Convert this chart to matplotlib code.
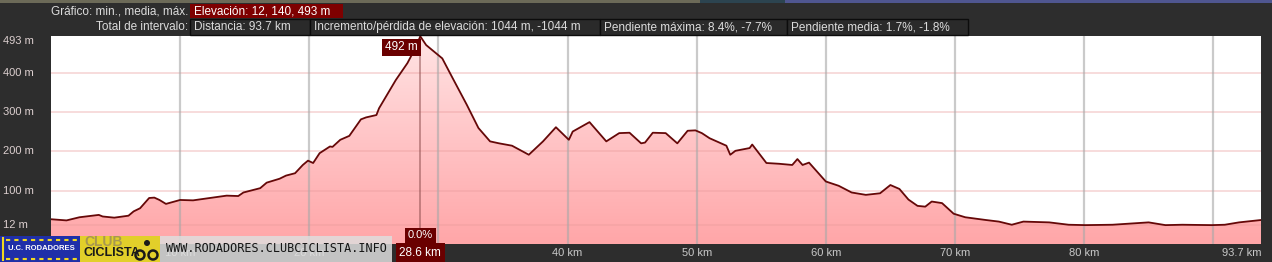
import numpy as np
import matplotlib
matplotlib.use("Agg")
import matplotlib.pyplot as plt
from matplotlib.patches import Rectangle, Circle, Polygon
from matplotlib.colors import LinearSegmentedColormap
from matplotlib import transforms

# -----------------------------
# Datos del perfil
# -----------------------------
km = [0, 1.2, 2.2, 3.7, 4.0, 4.9, 6.0, 6.4, 6.9, 7.6,
      8.0, 8.4, 8.9, 10.0, 11.0, 12.3, 13.6, 14.5, 14.9, 16.2,
      16.7, 17.7, 18.2, 18.9, 19.5, 19.9, 20.3, 20.8, 21.6, 21.8,
      22.4, 23.1, 24.0, 24.4, 25.2, 25.4, 26.7, 27.6, 28.0, 28.6,
      29.05, 29.6, 30.3, 31.1, 32.2, 33.1, 34.0, 34.7, 35.7, 37.0,
      38.1, 39.1, 40.1, 40.4, 41.7, 43.0, 44.0, 44.8, 45.7, 46.0,
      46.6, 47.6, 48.5, 49.3, 49.9, 50.4, 51.0, 52.3, 52.6, 53.0,
      54.1, 54.3, 55.4, 56.4, 57.4, 57.8, 58.2, 58.7, 60.0, 61.0,
      62.0, 63.1, 64.2, 65.0, 65.7, 66.4, 67.1, 67.7, 68.2, 69.0,
      69.9, 70.8, 72.4, 73.4, 74.4, 75.3, 77.3, 78.8, 80.1, 82.2,
      85.0, 86.3, 87.6, 89.9, 90.9, 92.0, 93.7]
elevacion = [27, 24, 32, 38, 34, 31, 36, 47, 55, 81,
             82, 76, 66, 76, 75, 81, 87, 86, 95, 106,
             120, 130, 138, 144, 165, 176, 170, 195, 212, 211,
             229, 239, 281, 286, 292, 309, 381, 424, 449, 492,
             470, 455, 436, 386, 318, 259, 225, 220, 214, 191,
             225, 261, 229, 250, 274, 225, 246, 247, 220, 222,
             247, 246, 220, 252, 253, 246, 233, 214, 191, 201,
             208, 217, 170, 168, 165, 180, 165, 171, 123, 112,
             95, 89, 93, 114, 104, 77, 61, 59, 72, 68,
             41, 32, 25, 21, 13, 21, 19, 13, 12, 13,
             19, 12, 13, 12, 13, 19, 25]

y_ticks = [12, 100, 200, 300, 400, 493]
y_labels = ["12 m", "100 m", "200 m", "300 m", "400 m", "493 m"]
x_ticks = [10, 20, 40, 50, 60, 70, 80]
x_grid = [10, 20, 30, 40, 50, 60, 70, 80, 90]
total_km = 93.7
marcador_km = 28.6
marcador_elev = 492
marcador_pend = "0.0%"

cabecera_1 = ("Gráfico: min., media, máx.", "Elevación: 12, 140, 493 m")
cabecera_2 = "Total de intervalo:"
cajas = ["Distancia: 93.7 km",
         "Incremento/pérdida de elevación: 1044 m, -1044 m",
         "Pendiente máxima: 8.4%, -7.7%",
         "Pendiente media: 1.7%, -1.8%"]
cajas_x = [190, 310, 600, 787, 968]

# -----------------------------
# Figura
# -----------------------------
W, H = 1272, 262
plt.rcParams["font.family"] = ["Liberation Sans", "DejaVu Sans"]
fondo = "#2d2d2d"
fig = plt.figure(figsize=(W / 100, H / 100), dpi=100, facecolor=fondo)

x0, x1, y0, y1 = 51, 1261, 36, 244
ax = fig.add_axes([x0 / W, 1 - y1 / H, (x1 - x0) / W, (y1 - y0) / H])
ax.set_xlim(0, total_km)
ax.set_ylim(-36, 493)
ax.set_facecolor("white")
for s in ax.spines.values():
    s.set_visible(False)
ax.set_xticks([])
ax.set_yticks([])

# relleno con degradado
cmap = LinearSegmentedColormap.from_list("rosa", ["#ffa6a8", "#ffc4c6", "#ffe4e4"])
grad = np.linspace(0, 1, 256).reshape(-1, 1)
img = ax.imshow(grad, cmap=cmap, origin="lower", aspect="auto",
                extent=[0, total_km, -36, 493], zorder=1)
clip = Polygon(np.column_stack([[0] + km + [total_km], [-36] + elevacion + [-36]]),
               transform=ax.transData)
img.set_clip_path(clip)

# rejilla
for v in y_ticks[:-1]:
    ax.axhline(v, color="#e89a9a", alpha=0.35, lw=1.4, zorder=2)
for v in x_grid:
    ax.axvline(v, color="#a8a8a8", alpha=0.6, lw=1.6, zorder=2)
ax.axvline(marcador_km, color="#8a4a4a", alpha=0.5, lw=1.4, zorder=2)

ax.plot(km, elevacion, color="#650808", lw=1.3, zorder=3)

# -----------------------------
# Capa de texto (pixeles)
# -----------------------------
ov = fig.add_axes([0, 0, 1, 1], zorder=5)
ov.set_xlim(0, W)
ov.set_ylim(H, 0)
ov.axis("off")
ov.patch.set_alpha(0)

# tira de mapa arriba
ov.add_patch(Rectangle((0, 0), 700, 3, fc="#6c6a58", ec="none"))
ov.add_patch(Rectangle((700, 0), 85, 3, fc="#2c4450", ec="none"))
ov.add_patch(Rectangle((785, 0), 487, 3, fc="#4f5690", ec="none"))

gris = "#dcdcdc"
ov.text(188, 11, cabecera_1[0], ha="right", va="center", color=gris, fontsize=8.5)
ov.add_patch(Rectangle((190, 4), 153, 14, fc="#7e0000", ec="none"))
ov.text(194, 11, cabecera_1[1], ha="left", va="center", color="white", fontsize=8.5)
ov.text(188, 27, cabecera_2, ha="right", va="center", color=gris, fontsize=8.5)
for i, t in enumerate(cajas):
    xa, xb = cajas_x[i], cajas_x[i + 1]
    ov.add_patch(Rectangle((xa, 19), xb - xa, 16, fc="#2a2a2a", ec="#0c0c0c", lw=1))
    ov.text(xa + 4, 27, t, ha="left", va="center", color=gris, fontsize=8.5)

# etiquetas del eje y
ty = transforms.blended_transform_factory(ov.transData, ax.transData)
for v, lab in zip(y_ticks, y_labels):
    ov.text(3, v, lab, transform=ty, ha="left",
            va="top" if v == y_ticks[-1] else "center",
            color="#dccfcf", fontsize=8)

# etiquetas del eje x
tx = transforms.blended_transform_factory(ax.transData, ov.transData)
for v in x_ticks:
    ov.text(v, 253, f"{v} km", transform=tx, ha="center", va="center",
            color="#c8c8c8", fontsize=8, zorder=2)
ov.text(total_km, 253, f"{total_km} km", transform=tx, ha="right", va="center",
        color="#c8c8c8", fontsize=8)

# marcadores
caja_roja = dict(boxstyle="square,pad=0.25", fc="#6a0000", ec="none")
ov.text(marcador_km, 253, f"{marcador_km} km", transform=tx, ha="center", va="center",
        color="white", fontsize=8.5,
        bbox=dict(boxstyle="square,pad=0.3", fc="#6a0000", ec="none"))
ov.text(marcador_km, 235.5, marcador_pend, transform=tx, ha="center", va="center",
        color="white", fontsize=8, bbox=caja_roja)
ov.text(marcador_km - 0.2, 47.5, f"{marcador_elev} m", transform=tx, ha="right",
        va="center", color="white", fontsize=8.5, bbox=caja_roja)

# marca de agua
ov.add_patch(Rectangle((160, 236), 232, 26, fc="#dedede", ec="none", alpha=0.85,
                       zorder=4))
ov.text(276, 249, "WWW.RODADORES.CLUBCICLISTA.INFO", ha="center", va="center",
        color="#151515", fontsize=8.5, family="DejaVu Sans Mono",
        fontstretch="condensed", zorder=5)

# logo
ov.add_patch(Rectangle((0, 236), 80, 26, fc="#1f2fa8", ec="none", zorder=4))
ov.plot([6, 78], [239.5, 239.5], color="#f0d820", lw=1.5, ls=(0, (2, 2)), zorder=5)
ov.plot([6, 78], [258.5, 258.5], color="#f0d820", lw=1.5, ls=(0, (2, 2)), zorder=5)
ov.plot([3, 3], [238, 260], color="#f0d820", lw=1.5, zorder=5)
ov.text(41, 249, "U.C. RODADORES", ha="center", va="center", color="white",
        fontsize=5.5, weight="bold", fontstretch="condensed", zorder=5)
ov.add_patch(Rectangle((80, 236), 80, 26, fc="#e2cf2a", ec="none", zorder=4))
ov.text(84, 242, "CLUB", ha="left", va="center", color="#a89850", fontsize=10,
        weight="bold", zorder=5)
ov.text(83, 253, "CICLISTA", ha="left", va="center", color="#1a1a1a", fontsize=9,
        weight="bold", fontstretch="condensed", zorder=5)
ov.add_patch(Circle((140, 255), 4.5, fc="none", ec="#1a1a1a", lw=1.8, zorder=5))
ov.add_patch(Circle((153, 255), 4.5, fc="none", ec="#1a1a1a", lw=1.8, zorder=5))
ov.add_patch(Circle((147, 243), 3, fc="#1a1a1a", ec="none", zorder=5))

fig.savefig("out.png", dpi=100, facecolor=fondo)
